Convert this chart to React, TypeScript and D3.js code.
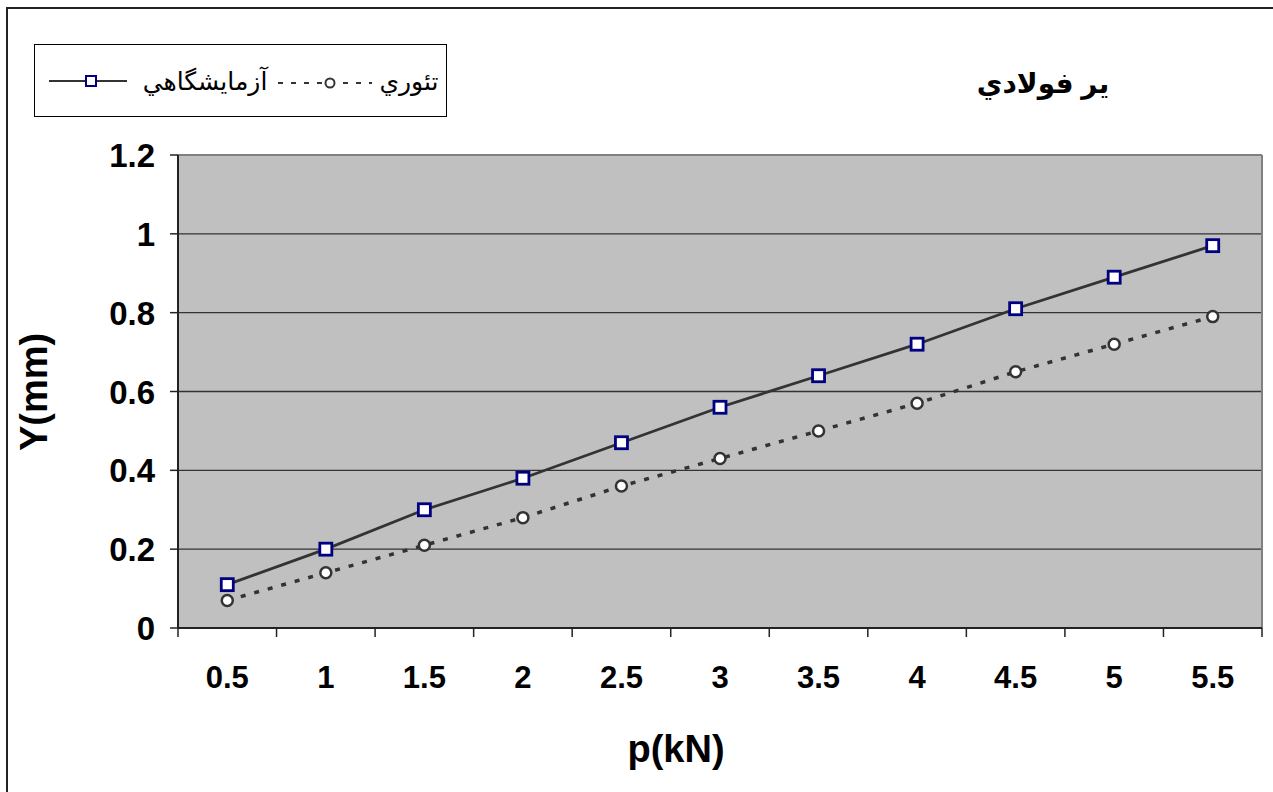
import React from "react";
import * as d3 from "d3";

const categories = ["0.5", "1", "1.5", "2", "2.5", "3", "3.5", "4", "4.5", "5", "5.5"];
const experimental = [0.11, 0.2, 0.3, 0.38, 0.47, 0.56, 0.64, 0.72, 0.81, 0.89, 0.97];
const theoretical = [0.07, 0.14, 0.21, 0.28, 0.36, 0.43, 0.5, 0.57, 0.65, 0.72, 0.79];
const yTicks = [0, 0.2, 0.4, 0.6, 0.8, 1, 1.2];
const title = "ير فولادي";
const legendExp = "آزمايشگاهي";
const legendTheo = "تئوري";
const xTitle = "p(kN)";
const yTitle = "Y(mm)";

const W = 1273;
const H = 792;
const plot = { left: 178, right: 1262, top: 155, bottom: 628 };
const FONT = "'Liberation Sans', Arial, 'DejaVu Sans', sans-serif";

export default function App() {
  const x = d3.scaleBand<string>().domain(categories).range([plot.left, plot.right]).paddingInner(0).paddingOuter(0);
  const y = d3.scaleLinear().domain([0, 1.2]).range([plot.bottom, plot.top]);
  const cx = (c: string) => (x(c) as number) + x.bandwidth() / 2;
  const line = d3
    .line<number>()
    .x((_, i) => cx(categories[i]))
    .y((d) => y(d));

  const bounds = categories.map((c) => x(c) as number).concat([plot.right]);

  return (
    <svg width={W} height={H} style={{ position: "absolute", left: 0, top: 0, background: "#fff" }} fontFamily={FONT}>
      {/* outer frame */}
      <rect x={7} y={8} width={1400} height={900} fill="none" stroke="#222" strokeWidth={2} />
      {/* plot background */}
      <rect x={plot.left} y={plot.top} width={plot.right - plot.left} height={plot.bottom - plot.top} fill="#C0C0C0" />
      {/* gridlines */}
      {yTicks
        .filter((t) => t > 0 && t < 1.2)
        .map((t) => (
          <line key={"g" + t} x1={plot.left} x2={plot.right} y1={y(t)} y2={y(t)} stroke="#333" strokeWidth={1.3} />
        ))}
      {/* top/right border */}
      <line x1={plot.left} x2={plot.right} y1={plot.top} y2={plot.top} stroke="#808080" strokeWidth={2} />
      <line x1={plot.right} x2={plot.right} y1={plot.top} y2={plot.bottom} stroke="#808080" strokeWidth={2} />
      {/* axes */}
      <line x1={plot.left} x2={plot.left} y1={plot.top} y2={plot.bottom} stroke="#222" strokeWidth={2} />
      <line x1={plot.left} x2={plot.right} y1={plot.bottom} y2={plot.bottom} stroke="#222" strokeWidth={2} />
      {yTicks.map((t) => (
        <g key={"yt" + t}>
          <line x1={plot.left - 8} x2={plot.left} y1={y(t)} y2={y(t)} stroke="#222" strokeWidth={1.5} />
          <text x={155} y={y(t) + 12} textAnchor="end" fontSize={33} fontWeight="bold" fill="#000">
            {String(t)}
          </text>
        </g>
      ))}
      {bounds.map((b, i) => (
        <line key={"xt" + i} x1={b} x2={b} y1={plot.bottom} y2={plot.bottom + 9} stroke="#222" strokeWidth={1.5} />
      ))}
      {categories.map((c) => (
        <text key={"xl" + c} x={cx(c)} y={688} textAnchor="middle" fontSize={31} fontWeight="bold" fill="#000">
          {c}
        </text>
      ))}
      <text x={676} y={762} textAnchor="middle" fontSize={38} fontWeight="bold" fill="#000">
        {xTitle}
      </text>
      <text
        transform={`translate(47,392) rotate(-90)`}
        textAnchor="middle"
        fontSize={38}
        fontWeight="bold"
        fill="#000"
      >
        {yTitle}
      </text>
      {/* series */}
      <path d={line(theoretical) || ""} fill="none" stroke="#333" strokeWidth={3.5} strokeDasharray="5,9" />
      <path d={line(experimental) || ""} fill="none" stroke="#333" strokeWidth={2.8} />
      {theoretical.map((v, i) => (
        <circle key={"c" + i} cx={cx(categories[i])} cy={y(v)} r={5.5} fill="#fff" stroke="#333" strokeWidth={2.5} />
      ))}
      {experimental.map((v, i) => (
        <rect
          key={"s" + i}
          x={cx(categories[i]) - 6}
          y={y(v) - 6}
          width={12}
          height={12}
          fill="#fff"
          stroke="#000080"
          strokeWidth={2.8}
        />
      ))}
      {/* title */}
      <text x={1043} y={93} textAnchor="middle" fontSize={28} fontWeight="bold" fill="#000">
        {title}
      </text>
      {/* legend */}
      <rect x={34.5} y={44.5} width={412} height={72} fill="#fff" stroke="#000" strokeWidth={1} />
      <line x1={49} x2={127} y1={81} y2={81} stroke="#333" strokeWidth={2} />
      <rect x={86} y={76} width={10} height={10} fill="#fff" stroke="#000080" strokeWidth={2} />
      <text x={205} y={90} textAnchor="middle" fontSize={25} fill="#000">
        {legendExp}
      </text>
      <line x1={278} x2={372} y1={83} y2={83} stroke="#333" strokeWidth={2} strokeDasharray="5,8" />
      <circle cx={330} cy={83} r={4.5} fill="#fff" stroke="#333" strokeWidth={2} />
      <text x={409} y={90} textAnchor="middle" fontSize={25} fill="#000">
        {legendTheo}
      </text>
    </svg>
  );
}
